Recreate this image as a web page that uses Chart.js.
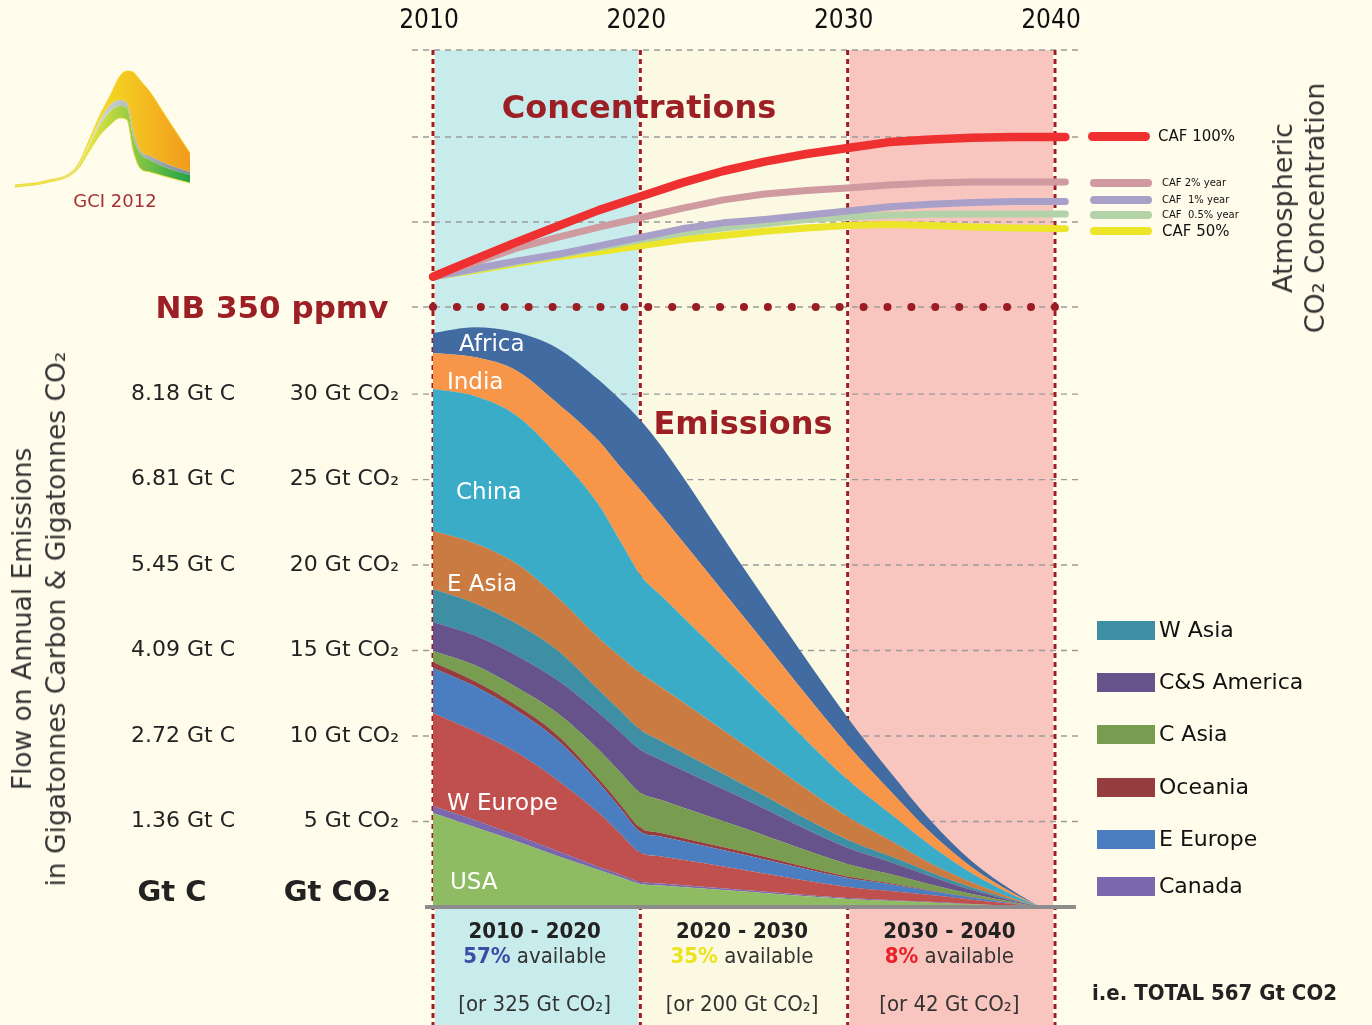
<!DOCTYPE html>
<html>
<head>
<meta charset="utf-8">
<title>Emissions and concentrations 2010-2040</title>
<script src="https://cdn.jsdelivr.net/npm/chart.js@4.4.1/dist/chart.umd.min.js"></script>
<style>
  html, body { margin: 0; padding: 0; background: #fffcec; }
  #page { position: relative; width: 1372px; height: 1025px; overflow: hidden; font-family: "DejaVu Sans", sans-serif; color: #222; }
  canvas { position: absolute; }
  #chart { left: 0; top: 0; }
  #logo { left: 0; top: 60px; }
  .txt { position: absolute; white-space: pre; line-height: 1; }
  .c { transform: translate(-50%, -50%); text-align: center; }
  .l { transform: translate(0, -50%); }
  .head { font-weight: bold; color: #9b1f24; font-size: 32px; }
  .inner { color: #fff; font-size: 23px; }
  .cond { font-family: "DejaVu Sans Condensed", "Liberation Sans Narrow", sans-serif; font-stretch: condensed; }
  .rot { transform: translate(-50%, -50%) rotate(-90deg); text-align: center; color: #333; }
  .sw { position: absolute; }
</style>
</head>
<body>
<div id="page">
  <canvas id="chart" width="1372" height="1025"></canvas>
  <canvas id="logo" width="200" height="135"></canvas>

  <div class="txt c head" style="left:639px;top:107px">Concentrations</div>
  <div class="txt c head" style="left:743px;top:423px">Emissions</div>
  <div class="txt c head" style="left:272px;top:307px;font-size:31px">NB 350 ppmv</div>
  <div class="txt c" style="left:115px;top:201px;font-size:18px;color:#a23235">GCI 2012</div>
  <div class="txt c" style="left:172px;top:891px;font-size:29px;font-weight:bold">Gt C</div>
  <div class="txt c" style="left:337px;top:891px;font-size:29px;font-weight:bold">Gt CO₂</div>
  <div class="txt rot" style="left:39px;top:619px;font-size:26.5px;line-height:34px">Flow on Annual Emissions
in Gigatonnes Carbon &amp; Gigatonnes CO₂</div>
  <div class="txt rot" style="left:1299px;top:208px;font-size:27px;line-height:32px">Atmospheric
CO₂ Concentration</div>
</div>

<script>
// emissions, Gt CO2 per year, stacked from the bottom
const years = [2010, 2012, 2014, 2016, 2018, 2019, 2020, 2021, 2025, 2030, 2032, 2034, 2036, 2038, 2039.3];
const usa       = [5.50, 4.68, 3.86, 2.98, 2.16, 1.75, 1.35, 1.26, 0.91, 0.47, 0.37, 0.27, 0.16, 0.06, 0];
const canada    = [0.41, 0.41, 0.35, 0.29, 0.18, 0.15, 0.12, 0.11, 0.09, 0.06, 0.04, 0.03, 0.02, 0.01, 0];
const wEurope   = [5.44, 5.20, 4.85, 4.15, 3.16, 2.43, 1.70, 1.59, 1.17, 0.64, 0.53, 0.40, 0.25, 0.10, 0];
const eEurope   = [2.63, 2.63, 2.46, 2.34, 1.75, 1.49, 1.23, 1.16, 0.88, 0.53, 0.41, 0.23, 0.12, 0.04, 0];
const oceania   = [0.35, 0.29, 0.29, 0.29, 0.23, 0.23, 0.23, 0.21, 0.18, 0.09, 0.06, 0.04, 0.03, 0.01, 0];
const cAsia     = [0.64, 0.94, 1.05, 1.29, 1.70, 1.87, 2.05, 1.93, 1.37, 0.73, 0.53, 0.35, 0.18, 0.06, 0];
const csAmerica = [1.70, 1.75, 1.87, 1.93, 2.16, 2.34, 2.51, 2.34, 1.73, 0.94, 0.70, 0.47, 0.23, 0.07, 0];
const wAsia     = [1.93, 1.87, 1.87, 1.75, 1.35, 1.26, 1.17, 1.11, 0.82, 0.47, 0.35, 0.23, 0.15, 0.06, 0];
const eAsia     = [3.39, 3.51, 3.51, 3.10, 3.04, 3.16, 3.33, 3.16, 2.34, 1.35, 0.94, 0.53, 0.29, 0.09, 0];
const china     = [8.30, 8.60, 8.65, 8.30, 7.78, 6.78, 5.73, 5.35, 3.95, 2.16, 1.58, 1.05, 0.53, 0.18, 0];
const india     = [2.11, 2.28, 2.63, 3.04, 3.74, 4.33, 4.97, 4.71, 3.51, 2.05, 1.35, 0.76, 0.35, 0.12, 0];
const africa    = [1.17, 1.75, 2.22, 3.22, 3.57, 3.92, 4.09, 4.04, 2.84, 1.58, 1.11, 0.70, 0.35, 0.12, 0];

const regions = [
  ['USA', usa, '#8fbc62'], ['Canada', canada, '#7b67ad'], ['W Europe', wEurope, '#c0504d'],
  ['E Europe', eEurope, '#4a7ec0'], ['Oceania', oceania, '#953d3f'], ['C Asia', cAsia, '#789c50'],
  ['C&S America', csAmerica, '#67538b'], ['W Asia', wAsia, '#3e8fa4'], ['E Asia', eAsia, '#c97b41'],
  ['China', china, '#3aacc8'], ['India', india, '#f79649'], ['Africa', africa, '#416ba1']
];

// atmospheric concentration, ppmv
const concYears = [2010, 2012, 2014, 2016, 2018, 2020, 2022, 2024, 2026, 2028, 2030, 2032, 2034, 2036, 2038, 2040.5];
const caf100 = [367.8, 378, 388, 397.5, 407, 415, 423, 430, 435.5, 440, 443.5, 447, 448.5, 449.5, 450, 450];
const caf2   = [367.8, 376, 384.5, 391, 397, 402.5, 408, 413, 416.5, 418.5, 420, 421.8, 423, 423.5, 423.5, 423.5];
const caf1   = [367.8, 372.5, 377, 381, 386, 391, 396, 399.5, 401.5, 404, 406.5, 409, 410.5, 411.5, 412, 412];
const caf05  = [367.8, 372, 376.5, 380.5, 385, 389.5, 393.5, 396.5, 399, 401.5, 403, 404, 404.5, 404.7, 404.7, 404.7];
const caf50  = [367.8, 371.5, 375.5, 379.5, 382.5, 386, 389.5, 392, 394.5, 396.5, 398, 398.5, 398, 397, 396.5, 396];
const concSeries = [
  ['CAF 100%', caf100, '#ef3030', 8.5], ['CAF 2% year', caf2, '#d09aa1', 7], ['CAF  1% year', caf1, '#a8a0c8', 7],
  ['CAF  0.5% year', caf05, '#b3d2a8', 7], ['CAF 50%', caf50, '#ece52a', 7]
];
const nbLevel = 350;

// axes
const xTicks = [2010, 2020, 2030, 2040];
const co2Ticks = [5, 10, 15, 20, 25, 30];
const gtCLabels = ['1.36 Gt C', '2.72 Gt C', '4.09 Gt C', '5.45 Gt C', '6.81 Gt C', '8.18 Gt C'];
const ppmTicks = [400, 450];
const ppmGrid = [350, 400, 450];

// budget per decade
const periodLabels = ['2010 - 2020', '2020 - 2030', '2030 - 2040'];
const periodShare = ['57%', '35%', '8%'];
const periodGt = [325, 200, 42];
const periodColors = ['#3b4ea5', '#ece31f', '#ea2228'];
const bandColors = ['#c8ecec', '#fbf9e1', '#f8c5bf'];

// logo
const logoX = [15, 45, 77, 90, 100, 110, 120, 127, 133, 140, 150, 167, 190];
const logoBase = [3, 7, 20, 40, 55, 65, 72, 70, 40, 22, 18, 13, 7];
const logoGreen = [1, 1, 2, 6, 10, 13, 12, 12, 13, 15, 12, 9, 8];
const logoGrey = [0, 0, 1, 2, 5, 7, 6, 5, 7, 3, 4, 4, 3];
const logoOrange = [1, 1, 1, 4, 5, 9, 24, 32, 58, 70, 64, 46, 19];

const sans = '"DejaVu Sans", sans-serif';
const cond = '"DejaVu Sans Condensed", "Liberation Sans Narrow", sans-serif';
const pts = (xs, ys) => xs.map((x, i) => ({ x: x, y: ys[i] }));

const backdrop = {
  id: 'backdrop',
  beforeDraw(chart) {
    const { ctx, chartArea } = chart;
    const { x, y, yPpm } = chart.scales;
    ctx.save();
    ctx.fillStyle = '#fffcec';
    ctx.fillRect(0, 0, chart.width, chart.height);
    for (let i = 0; i < 3; i++) {
      const x0 = x.getPixelForValue(xTicks[i]) + 2, x1 = x.getPixelForValue(xTicks[i + 1]) - 2;
      ctx.fillStyle = bandColors[i];
      ctx.fillRect(x0, chartArea.top, x1 - x0, chart.height - chartArea.top);
    }
    ctx.strokeStyle = '#9a9a9a';
    ctx.lineWidth = 1.3;
    ctx.setLineDash([6, 5]);
    const rows = [chartArea.top].concat(co2Ticks.map(v => y.getPixelForValue(v)), ppmGrid.map(v => yPpm.getPixelForValue(v)));
    rows.forEach(py => {
      ctx.beginPath(); ctx.moveTo(412, py); ctx.lineTo(1080, py); ctx.stroke();
    });
    ctx.strokeStyle = '#9e1b20';
    ctx.lineWidth = 3;
    ctx.setLineDash([5, 4]);
    xTicks.forEach(v => {
      const px = x.getPixelForValue(v);
      ctx.beginPath(); ctx.moveTo(px, chartArea.top); ctx.lineTo(px, chart.height); ctx.stroke();
    });
    ctx.restore();
  },
  afterDatasetsDraw(chart) {
    const { ctx } = chart;
    const py = chart.scales.y.getPixelForValue(0);
    ctx.save();
    ctx.strokeStyle = '#8c8c8c';
    ctx.lineWidth = 4;
    ctx.beginPath(); ctx.moveTo(425, py); ctx.lineTo(1076, py); ctx.stroke();
    ctx.restore();
  }
};

const datasets = regions.map((r, i) => ({
  label: r[0], data: pts(years, r[1]), yAxisID: 'y',
  backgroundColor: r[2], borderWidth: 0, pointRadius: 0, cubicInterpolationMode: 'monotone',
  fill: i === 0 ? 'origin' : '-1'
}));
concSeries.forEach(s => datasets.push({
  label: s[0], data: pts(concYears, s[1]), yAxisID: 'yPpm',
  borderColor: s[2], borderWidth: s[3], borderCapStyle: 'round', borderJoinStyle: 'round',
  pointRadius: 0, tension: 0, fill: false, clip: false
}));
datasets.push({
  label: 'NB 350 ppmv', data: pts([2010, 2040], [nbLevel, nbLevel]), yAxisID: 'yPpm',
  borderColor: '#9b1c22', borderWidth: 8, borderDash: [0, 23.92], borderCapStyle: 'round',
  pointRadius: 0, fill: false, clip: false
});

const tickFont = { family: sans, size: 22 };
const chart = new Chart(document.getElementById('chart'), {
  type: 'line',
  data: { datasets: datasets },
  options: {
    responsive: false, animation: false, devicePixelRatio: 1,
    layout: { padding: { left: 0, top: 0, right: 317, bottom: 118 } },
    plugins: { legend: { display: false }, tooltip: { enabled: false } },
    scales: {
      x: {
        type: 'linear', position: 'top', min: 2010, max: 2040,
        afterBuildTicks: s => { s.ticks = xTicks.map(v => ({ value: v })); },
        afterFit: s => { s.height = 50; },
        grid: { display: false, drawTicks: false }, border: { display: false },
        ticks: { autoSkip: false, maxRotation: 0, padding: 13, labelOffset: -4, color: '#111', font: { family: cond, size: 26 }, callback: v => String(v) }
      },
      y: {
        type: 'linear', position: 'left', weight: 1, stacked: true, min: 0, max: 50.12,
        afterBuildTicks: s => { s.ticks = co2Ticks.map(v => ({ value: v })); },
        afterFit: s => { s.width = 183; },
        grid: { display: false, drawTicks: false }, border: { display: false },
        ticks: { autoSkip: false, padding: 34, color: '#222', font: tickFont, callback: v => v + ' Gt CO₂' }
      },
      yGtC: {
        type: 'linear', position: 'left', weight: 2, min: 0, max: 50.12,
        afterBuildTicks: s => { s.ticks = co2Ticks.map(v => ({ value: v })); },
        afterFit: s => { s.width = 250; },
        grid: { display: false, drawTicks: false }, border: { display: false },
        ticks: { autoSkip: false, padding: 15, color: '#222', font: tickFont, callback: (v, i) => gtCLabels[i] }
      },
      yPpm: {
        type: 'linear', position: 'left', weight: 0, min: -2.94, max: 501.18,
        afterBuildTicks: s => { s.ticks = ppmTicks.map(v => ({ value: v })); },
        afterFit: s => { s.width = 0; },
        grid: { display: false, drawTicks: false }, border: { display: false },
        ticks: { autoSkip: false, padding: 23, color: '#111', font: tickFont, callback: v => v + ' ppmv' }
      }
    }
  },
  plugins: [backdrop]
});

// small GCI logo
const logoCanvas = document.getElementById('logo');
function logoGrad(c, a, b) {
  const ctx = c.chart.ctx;
  const g = ctx.createLinearGradient(90, 0, 190, 0);
  g.addColorStop(0, a); g.addColorStop(1, b);
  return g;
}
new Chart(logoCanvas, {
  type: 'line',
  data: {
    datasets: [
      { data: pts(logoX, logoBase), backgroundColor: 'rgba(0,0,0,0)', borderColor: '#e6dc3a', borderWidth: 1, fill: 'origin' },
      { data: pts(logoX, logoGreen), backgroundColor: c => logoGrad(c, '#e2e640', '#22a24a'), borderWidth: 0, fill: '-1' },
      { data: pts(logoX, logoGrey), backgroundColor: c => logoGrad(c, '#d8dcd0', '#7f8d9c'), borderWidth: 0, fill: '-1' },
      { data: pts(logoX, logoOrange), backgroundColor: c => logoGrad(c, '#f4e224', '#f39a1e'), borderColor: '#f0d830', borderWidth: 1, fill: '-1' }
    ]
  },
  options: {
    responsive: false, animation: false, devicePixelRatio: 1,
    layout: { padding: 0 },
    elements: { point: { radius: 0 }, line: { cubicInterpolationMode: 'monotone' } },
    plugins: { legend: { display: false }, tooltip: { enabled: false } },
    scales: {
      x: { type: 'linear', display: false, min: 0, max: 200 },
      y: { display: false, stacked: true, min: -5, max: 130 }
    }
  }
});

// html texts
const page = document.getElementById('page');
function addText(text, x, y, cls, style) {
  const d = document.createElement('div');
  d.className = 'txt ' + cls;
  d.style.left = x + 'px';
  d.style.top = y + 'px';
  if (style) d.style.cssText += style;
  d.innerHTML = text;
  page.appendChild(d);
  return d;
}
function addSwatch(x, y, w, h, color, radius) {
  const s = document.createElement('div');
  s.className = 'sw';
  s.style.cssText = `left:${x}px;top:${y - h / 2}px;width:${w}px;height:${h}px;background:${color};border-radius:${radius}px`;
  page.appendChild(s);
}

// labels inside the areas
[['Africa', 459, 343], ['India', 447, 381], ['China', 456, 491], ['E Asia', 447, 583], ['W Europe', 447, 802], ['USA', 450, 881]]
  .forEach(a => addText(a[0], a[1], a[2], 'l inner'));

// legend for the lower regions
const legendRegions = ['W Asia', 'C&S America', 'C Asia', 'Oceania', 'E Europe', 'Canada'];
const legendY = [630, 682, 734, 787, 839, 886];
legendRegions.forEach((name, i) => {
  const r = regions.find(q => q[0] === name);
  addSwatch(1097, legendY[i], 58, 19, r[2], 0);
  addText(name.replace('&', '&amp;'), 1159, legendY[i], 'l', 'font-size:22px;color:#111');
});

// legend for concentration paths
const concLegendY = [136, 183, 200, 215, 231];
const concLegendSize = [15, 10, 10, 10, 15];
concSeries.forEach((s, i) => {
  addSwatch(i === 0 ? 1088 : 1090, concLegendY[i], 62, i === 0 ? 9 : 8, s[2], 5);
  addText(s[0], i === 0 ? 1158 : 1162, concLegendY[i], 'l', `font-size:${concLegendSize[i]}px;color:#111`);
});

// budget per decade under the axis
const xs = chart.scales.x;
periodLabels.forEach((p, i) => {
  const cx = xs.getPixelForValue((xTicks[i] + xTicks[i + 1]) / 2) - 2;
  addText(p, cx, 931, 'c cond', 'font-size:22px;font-weight:bold;color:#222');
  addText(`<b style="color:${periodColors[i]}">${periodShare[i]}</b> available`, cx, 956, 'c cond', 'font-size:22px;color:#333');
  addText(`[or ${periodGt[i]} Gt CO₂]`, cx, 1004, 'c cond', 'font-size:22px;color:#333');
});
const total = periodGt.reduce((a, b) => a + b, 0);
addText(`i.e. TOTAL ${total} Gt CO2`, 1092, 993, 'l cond', 'font-size:22px;font-weight:bold;color:#222');
</script>
</body>
</html>
